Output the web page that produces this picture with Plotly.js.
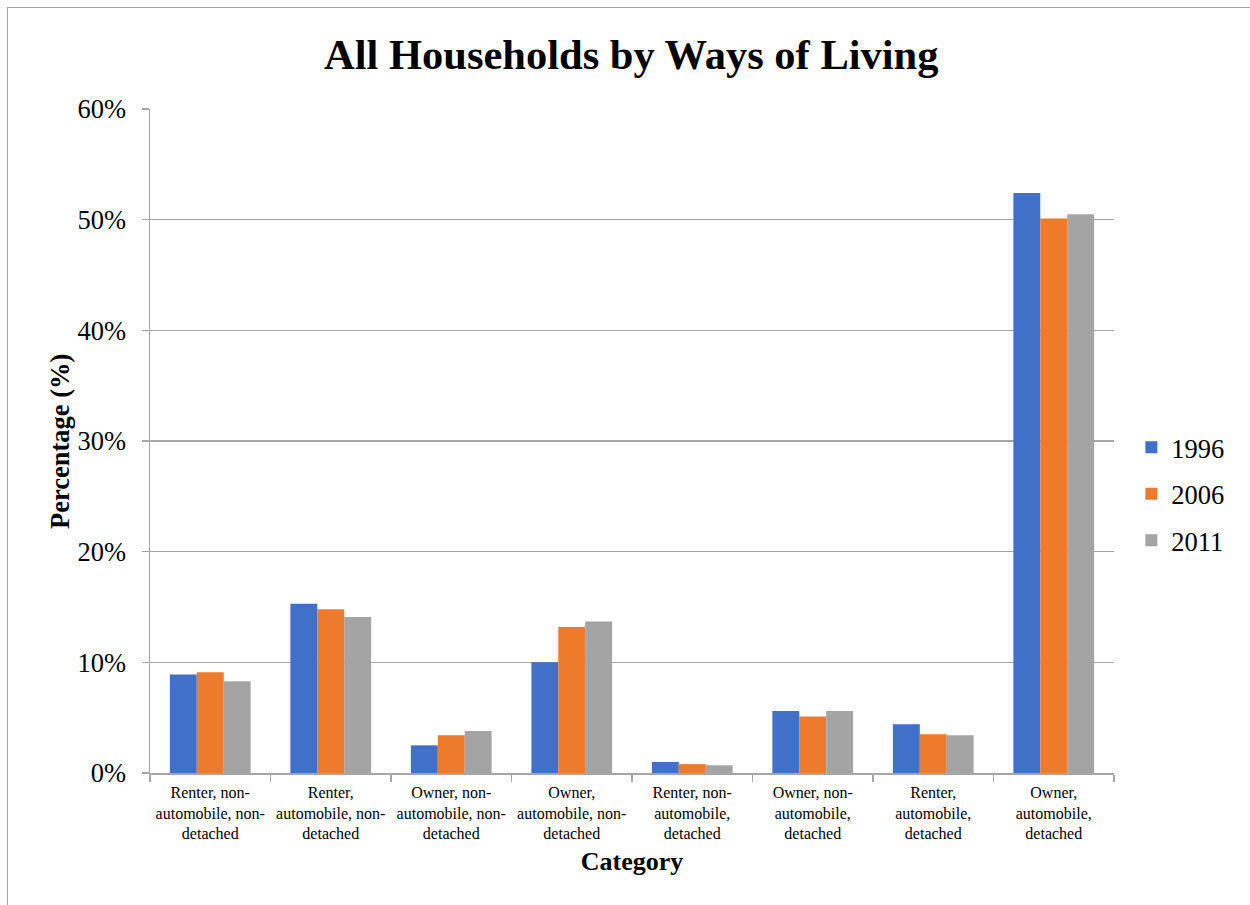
<!DOCTYPE html>
<html>
<head>
<meta charset="utf-8">
<script src="https://cdn.plot.ly/plotly-3.0.1.min.js"></script>
<style>
  html, body { margin: 0; padding: 0; background: #fff; overflow: hidden; }
  #chart { width: 1250px; height: 905px; }
  #frame { position: absolute; left: 7px; top: 7px; width: 1400px; height: 1100px;
           border: 1.5px solid #a6a6a6; pointer-events: none; }
</style>
</head>
<body>
<div id="chart"></div>
<div id="frame"></div>
<script>
const categories = [
  "Renter, non-<br>automobile, non-<br>detached",
  "Renter,<br>automobile, non-<br>detached",
  "Owner, non-<br>automobile, non-<br>detached",
  "Owner,<br>automobile, non-<br>detached",
  "Renter, non-<br>automobile,<br>detached",
  "Owner, non-<br>automobile,<br>detached",
  "Renter,<br>automobile,<br>detached",
  "Owner,<br>automobile,<br>detached"
];
const seriesNames = ["1996", "2006", "2011"];
const values1996 = [0.089, 0.153, 0.025, 0.100, 0.010, 0.056, 0.044, 0.524];
const values2006 = [0.091, 0.148, 0.034, 0.132, 0.008, 0.051, 0.035, 0.501];
const values2011 = [0.083, 0.141, 0.038, 0.137, 0.007, 0.056, 0.034, 0.505];
const colors = ["#4170C9", "#EE7A2C", "#A4A4A4"];

const allValues = [values1996, values2006, values2011];
const traces = allValues.map((vals, i) => ({
  type: "bar",
  name: seriesNames[i],
  x: categories,
  y: vals,
  marker: { color: colors[i], line: { width: 0 } },
  legendgroup: "g" + i,
  hoverinfo: "x+y+name"
}));

const serif = "Liberation Serif, Times New Roman, serif";

const layout = {
  width: 1250, height: 905,
  margin: { l: 150, r: 136, t: 109, b: 132 },
  paper_bgcolor: "#fff", plot_bgcolor: "#fff",
  barmode: "group", bargap: 0.33, bargroupgap: 0,
  title: {
    text: "<b>All Households by Ways of Living</b>",
    font: { family: serif, size: 42.5, color: "#000" },
    x: 0.505, xanchor: "center", y: 0.94, yanchor: "middle"
  },
  xaxis: {
    type: "category",
    tickson: "boundaries",
    ticks: "outside", ticklen: 7, tickcolor: "#a6a6a6", tickwidth: 1.5,
    showline: true, linecolor: "#a6a6a6", linewidth: 1.5,
    showgrid: false, zeroline: false,
    tickfont: { family: serif, size: 16, color: "#000" },
    ticklabelstandoff: 4,
    tickangle: 0,
    title: { text: "<b>Category</b>", font: { family: serif, size: 26, color: "#000" }, standoff: 10 },
    automargin: false
  },
  yaxis: {
    range: [0, 0.6], dtick: 0.1, tick0: 0, tickformat: ".0%",
    ticks: "outside", ticklen: 7, tickcolor: "#a6a6a6", tickwidth: 1.5,
    showline: true, linecolor: "#a6a6a6", linewidth: 1.5,
    showgrid: true, gridcolor: "#a6a6a6", gridwidth: 1.5,
    zeroline: false,
    tickfont: { family: serif, size: 26.5, color: "#000" },
    ticklabelstandoff: 10,
    automargin: false
  },
  annotations: [{
    text: "<b>Percentage (%)</b>",
    textangle: -90,
    xref: "paper", yref: "paper",
    x: -0.0934, y: 0.5, xanchor: "center", yanchor: "middle",
    showarrow: false,
    font: { family: serif, size: 26.5, color: "#000" }
  }],
  legend: {
    x: 1.018, xanchor: "left", y: 0.42, yanchor: "middle",
    font: { family: serif, size: 26.5, color: "#000" },
    traceorder: "grouped", tracegroupgap: 9,
    itemwidth: 30, bgcolor: "rgba(0,0,0,0)"
  },
  showlegend: true
};

Plotly.newPlot("chart", traces, layout, { displayModeBar: false, staticPlot: true });
</script>
</body>
</html>
